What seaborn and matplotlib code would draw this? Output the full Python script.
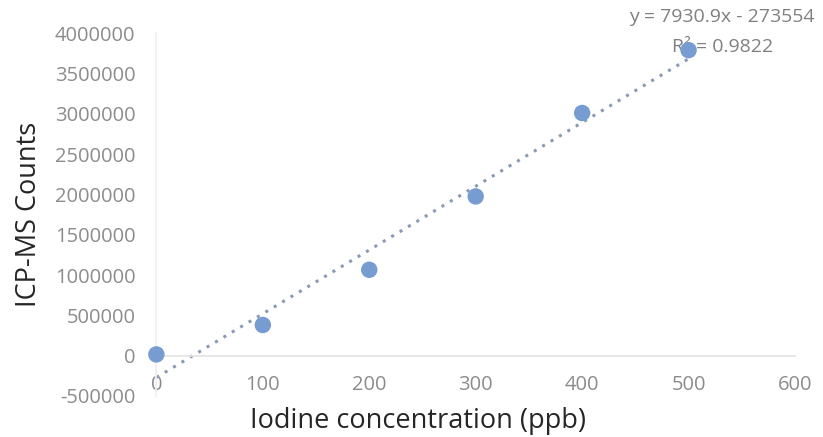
import numpy as np
import pandas as pd
import matplotlib
matplotlib.use("Agg")
import matplotlib.pyplot as plt
import seaborn as sns

concentracion_ppb = [0, 100, 200, 300, 400, 500]
cuentas_icp = [15000, 380000, 1065000, 1975000, 3010000, 3790000]
ticks_y = [-500000, 0, 500000, 1000000, 1500000, 2000000, 2500000, 3000000, 3500000, 4000000]
ticks_x = [0, 100, 200, 300, 400, 500, 600]
texto_ecuacion = "y = 7930.9x - 273554"
texto_r2 = "R² = 0.9822"

df = pd.DataFrame({"ppb": concentracion_ppb, "counts": cuentas_icp})

sns.set_theme(style="white")
plt.rcParams["font.family"] = ["Open Sans", "DejaVu Sans"]

fig = plt.figure(figsize=(8.23, 4.37), dpi=100)
ax = fig.add_axes([0.19, 0.094, 0.776, 0.83])

# Línea de tendencia punteada (ajuste lineal)
sns.regplot(x="ppb", y="counts", data=df, ax=ax, ci=None, scatter=False,
            line_kws={"color": "#8a99b4", "linestyle": (0, (1, 2.2)), "linewidth": 2.2})
sns.scatterplot(x="ppb", y="counts", data=df, ax=ax, s=140, color="#769cd2",
                edgecolor="none", clip_on=False, zorder=5)

ax.set_xlim(0, 600)
ax.set_ylim(-500000, 4000000)
ax.set_xticks(ticks_x)
ax.set_yticks(ticks_y)
ax.set_yticklabels([str(t) for t in ticks_y])

for s in ["top", "right"]:
    ax.spines[s].set_visible(False)
ax.spines["left"].set_color("#f0f0f0")
ax.spines["bottom"].set_position(("data", 0))
ax.spines["bottom"].set_color("#e3e3e3")
ax.spines["bottom"].set_linewidth(1.2)

ax.tick_params(axis="both", length=0, labelsize=14.5, labelcolor="#8c8c8c")
ax.tick_params(axis="x", pad=14)
ax.tick_params(axis="y", pad=15)

ax.set_xlabel("Iodine concentration (ppb)", fontsize=19.5, color="#262626")
ax.set_ylabel("ICP-MS Counts", fontsize=19.5, color="#262626")
ax.xaxis.set_label_coords(0.41, -0.03)
ax.yaxis.set_label_coords(-0.177, 0.5)

ax.text(0.886, 1.044, texto_ecuacion, transform=ax.transAxes, ha="center", va="center",
        fontsize=14, color="#808080")
ax.text(0.886, 0.961, texto_r2, transform=ax.transAxes, ha="center", va="center",
        fontsize=14, color="#808080")

plt.savefig("out.png", dpi=100)
plt.close()
